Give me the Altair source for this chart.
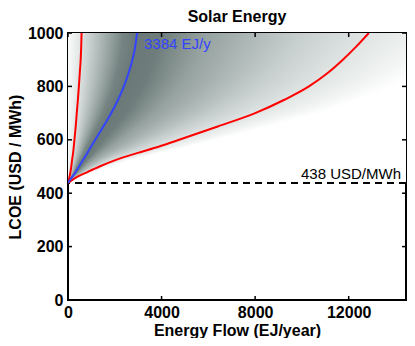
import altair as alt
import numpy as np
import pandas as pd

# ---------------- data ----------------
TITLE = "Solar Energy"
X_TITLE = "Energy Flow (EJ/year)"
Y_TITLE = "LCOE (USD / MWh)"
X_TICKS = [0, 4000, 8000, 12000]
Y_TICKS = [0, 200, 400, 600, 800, 1000]
X_MAX = 14450
Y_MAX = 1000

PRICE = [438, 460, 480, 500, 525, 550, 575, 600, 650, 700, 750, 800, 850, 900, 950, 1000]
LEFT_RED = [0, 60, 105, 140, 175, 218, 248, 275, 330, 375, 423, 465, 503, 542, 565, 580]
MEDIAN = [0, 170, 330, 470, 650, 820, 990, 1165, 1510, 1850, 2140, 2390, 2590, 2755, 2875, 2950]
RIGHT_RED = [0, 370, 850, 1350, 2050, 2950, 3900, 4750, 6400, 8000, 9250, 10300, 11100, 11750, 12330, 12860]

THRESHOLD = 438
THRESHOLD_LABEL = "438 USD/MWh"
MEDIAN_LABEL = "3384 EJ/y"

FONT = "Liberation Sans"
RED = "#ff0000"
BLUE = "#3344ff"

W, H = 338, 267

# ---------------- shared encodings ----------------
xscale = alt.Scale(domain=[0, X_MAX], nice=False, zero=False)
yscale = alt.Scale(domain=[0, Y_MAX], nice=False, zero=False)
xaxis = alt.Axis(values=X_TICKS, format="d", labelFont=FONT, labelFontSize=16,
                 labelFontWeight="bold", labelColor="black", tickSize=0, domain=False,
                 grid=False, labelPadding=4, labelFlush=False, labelOverlap=False,
                 titleFont=FONT, titleFontSize=16, titleFontWeight="bold", titleColor="black",
                 titleY=35, titleBaseline="alphabetic")
yaxis = alt.Axis(values=Y_TICKS, format="d", labelFont=FONT, labelFontSize=16,
                 labelFontWeight="bold", labelColor="black", tickSize=0, domain=False,
                 grid=False, labelPadding=5, labelFlush=False, labelOverlap=False,
                 titleFont=FONT, titleFontSize=16, titleFontWeight="bold", titleColor="black",
                 titleX=-48, titleY=H / 2, titleAngle=-90, titleAlign="center",
                 titleBaseline="alphabetic")


def X(field):
    return alt.X(field, type="quantitative", scale=xscale, axis=xaxis, title=X_TITLE)


def Y(field):
    return alt.Y(field, type="quantitative", scale=yscale, axis=yaxis, title=Y_TITLE)


# ---------------- density shading (rows with horizontal gradients) ----------------
def hexc(c):
    return "#%02x%02x%02x" % tuple(int(round(v)) for v in c)


def row_gradient(L, B, R):
    span = max(R - B, 1.0)
    stops = [
        (0.0, (250, 251, 251)),
        (L, (222, 227, 226)),
        (L + 0.45 * (B - L), (160, 172, 170)),
        (L + 0.75 * (B - L), (118, 133, 131)),
        (B, (106, 121, 119)),
        (B + 0.10 * span, (110, 125, 123)),
        (B + 0.30 * span, (150, 162, 160)),
        (B + 0.70 * span, (198, 206, 205)),
        (R, (224, 229, 228)),
        (R + 0.45 * span, (255, 255, 255)),
    ]
    xs = np.maximum.accumulate(np.array([s[0] for s in stops]))
    cols = np.array([s[1] for s in stops], dtype=float)
    out = [(xv / X_MAX, c) for xv, c in zip(xs, cols) if xv <= X_MAX]
    if xs[-1] > X_MAX:
        out.append((1.0, [np.interp(X_MAX, xs, cols[:, k]) for k in range(3)]))
    return alt.Gradient(
        gradient="linear", x1=0, x2=1, y1=0, y2=0,
        stops=[alt.GradientStop(color=hexc(c), offset=float(o)) for o, c in out],
    )


shade_layers = []
STEP = 4
for p in np.arange(THRESHOLD + 2, Y_MAX, STEP):
    pc = p + STEP / 2
    L = float(np.interp(pc, PRICE, LEFT_RED))
    B = float(np.interp(pc, PRICE, MEDIAN))
    R = float(np.interp(pc, PRICE, RIGHT_RED))
    df = pd.DataFrame({"e0": [0], "e1": [X_MAX], "p0": [float(p)],
                       "p1": [float(min(p + STEP * 2.5, Y_MAX))]})
    shade_layers.append(
        alt.Chart(df).mark_rect(color=row_gradient(L, B, R), strokeWidth=0).encode(
            x=X("e0"), x2=alt.X2("e1"), y=Y("p0"), y2=alt.Y2("p1"))
    )

# ---------------- curves ----------------
n = len(PRICE)
curves = pd.DataFrame({
    "price": PRICE * 3,
    "energy": LEFT_RED + RIGHT_RED + MEDIAN,
    "curve": ["left"] * n + ["right"] * n + ["median"] * n,
})

red_lines = alt.Chart(curves[curves.curve != "median"]).mark_line(
    color=RED, strokeWidth=2, clip=True, interpolate="monotone").encode(
    x=X("energy"), y=Y("price"), detail="curve:N")
blue_line = alt.Chart(curves[curves.curve == "median"]).mark_line(
    color=BLUE, strokeWidth=2, clip=True, interpolate="monotone").encode(
    x=X("energy"), y=Y("price"))

thr = alt.Chart(pd.DataFrame({"price": [THRESHOLD]})).mark_rule(
    color="black", strokeWidth=2, strokeDash=[7, 5]).encode(y=Y("price"))

thr_text = alt.Chart(pd.DataFrame({"energy": [X_MAX], "price": [THRESHOLD],
                                   "t": [THRESHOLD_LABEL]})).mark_text(
    align="right", baseline="alphabetic", dx=-5, dy=-4, font=FONT, fontSize=15,
    color="black").encode(x=X("energy"), y=Y("price"), text="t:N")

med_text = alt.Chart(pd.DataFrame({"energy": [MEDIAN[-1]], "price": [Y_MAX],
                                   "t": [MEDIAN_LABEL]})).mark_text(
    align="left", baseline="alphabetic", dx=7, dy=16, font=FONT, fontSize=15,
    color=BLUE).encode(x=X("energy"), y=Y("price"), text="t:N")

title_text = alt.Chart(pd.DataFrame({"t": [TITLE]})).mark_text(
    align="center", baseline="alphabetic", font=FONT, fontSize=16, fontWeight="bold",
    color="black").encode(x=alt.value(W / 2), y=alt.value(-11), text="t:N")

# ---------------- inward ticks (MATLAB style box) ----------------
TL = 4
xt = pd.DataFrame({"energy": X_TICKS})
yt = pd.DataFrame({"price": Y_TICKS})
ticks = [
    alt.Chart(xt).mark_rule(color="black", strokeWidth=1.5).encode(
        x=X("energy"), y=alt.value(H), y2=alt.value(H - TL)),
    alt.Chart(xt).mark_rule(color="black", strokeWidth=1.5).encode(
        x=X("energy"), y=alt.value(0), y2=alt.value(TL)),
    alt.Chart(yt).mark_rule(color="black", strokeWidth=1.5).encode(
        y=Y("price"), x=alt.value(0), x2=alt.value(TL)),
    alt.Chart(yt).mark_rule(color="black", strokeWidth=1.5).encode(
        y=Y("price"), x=alt.value(W), x2=alt.value(W - TL)),
]

chart = alt.layer(*shade_layers, thr, red_lines, blue_line, thr_text, med_text,
                  title_text, *ticks).properties(
    width=W, height=H,
    autosize=alt.AutoSizeParams(type="none"),
    padding={"left": 60, "top": 25, "right": 1, "bottom": 38},
).configure_view(stroke="black", strokeWidth=2)

chart.save("out.html", embed_options={"renderer": "svg", "actions": False})
